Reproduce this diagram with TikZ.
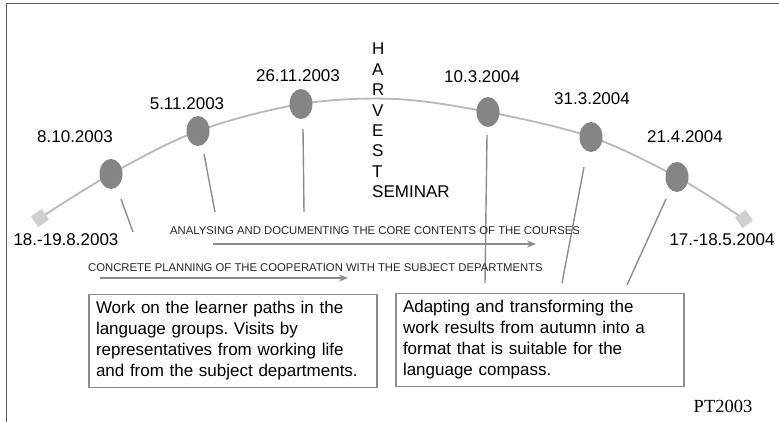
\documentclass[tikz,border=0pt]{standalone}
\usepackage{fontspec}
\setmainfont{Liberation Sans}
\newfontfamily\serifpt{Liberation Serif}
\usetikzlibrary{shapes.geometric,arrows.meta,backgrounds}
\definecolor{evfill}{HTML}{858585}
\definecolor{curvec}{HTML}{B8B8B8}
\definecolor{linkc}{HTML}{8C8C8C}
\definecolor{sqfill}{HTML}{CFCFCF}
\definecolor{framec}{HTML}{5A5A5A}
\tikzset{
  ev/.style={ellipse, fill=evfill, minimum width=23pt, minimum height=30pt, inner sep=0pt},
  endsq/.style={rectangle, fill=sqfill, minimum size=13pt, inner sep=0pt, rotate=35},
  datelbl/.style={font=\fontsize{17}{19}\selectfont, inner sep=0pt},
  linkline/.style={draw=linkc, line width=1.4pt},
  curveline/.style={draw=curvec, line width=1.8pt},
  arr/.style={draw=linkc, line width=1.4pt, -{Stealth[length=9pt,width=7pt]}},
  caps/.style={font=\fontsize{11.3}{13}\selectfont, inner sep=0pt, text=black!85},
  textbox/.style={draw=linkc, line width=1.2pt, minimum width=288pt, minimum height=88pt, text width=274pt, align=left, inner sep=7pt, font=\fontsize{17}{21}\selectfont}
}
\begin{document}
\frenchspacing
\begin{tikzpicture}[x=1pt,y=-1pt]
\useasboundingbox (0,0) rectangle (779,422);
% frame
\coordinate (fa) at (6,422);
\coordinate (fb) at (6,4);
\coordinate (fc) at (779,4);
\draw[framec, line width=1pt] (fa) -- (fb) -- (fc);

% events
\node[endsq] (s0) at (40,218) {};
\node[ev] (e1) at (111,174) {};
\node[ev] (e2) at (198,131) {};
\node[ev] (e3) at (301,104) {};
\node[ev] (e4) at (488,112) {};
\node[ev] (e5) at (591,137) {};
\node[ev] (e6) at (677,177) {};
\node[endsq] (s7) at (744,219) {};
\coordinate (top) at (395,99);

\begin{pgfonlayer}{background}
\draw[curveline] plot[smooth, tension=0.55] coordinates {(s0) (e1) (e2) (e3) (top) (e4) (e5) (e6) (s7)};
\end{pgfonlayer}

% date labels
\node[datelbl] (d0) at (66,240) {18.-19.8.2003};
\node[datelbl] (d1) at (75,137) {8.10.2003};
\node[datelbl] (d2) at (187,104) {5.11.2003};
\node[datelbl] (d3) at (298,76) {26.11.2003};
\node[datelbl] (d4) at (482,77) {10.3.2004};
\node[datelbl] (d5) at (592,99) {31.3.2004};
\node[datelbl] (d6) at (685,137) {21.4.2004};
\node[datelbl] (d7) at (722,240) {17.-18.5.2004};

% harvest seminar
\node[font=\fontsize{17}{20.4}\selectfont, align=left, anchor=north west, inner sep=0pt] (hs) at (372,43) {H\\A\\R\\V\\E\\S\\T\\SEMINAR};

% pointer lines
\coordinate (l1a) at (121,199); \coordinate (l1b) at (133,232);
\coordinate (l2a) at (204,154); \coordinate (l2b) at (215,212);
\coordinate (l3a) at (303,129); \coordinate (l3b) at (304,212);
\coordinate (l4a) at (487,135); \coordinate (l4b) at (485,283);
\coordinate (l5a) at (584,167); \coordinate (l5b) at (562,283);
\coordinate (l6a) at (666,199); \coordinate (l6b) at (627,285);
\draw[linkline] (l1a) -- (l1b);
\draw[linkline] (l2a) -- (l2b);
\draw[linkline] (l3a) -- (l3b);
\draw[linkline] (l4a) -- (l4b);
\draw[linkline] (l5a) -- (l5b);
\draw[linkline] (l6a) -- (l6b);

% arrows and captions
\node[caps] (c1) at (375,231) {ANALYSING AND DOCUMENTING THE CORE CONTENTS OF THE COURSES};
\coordinate (a1s) at (213,244); \coordinate (a1e) at (536,244);
\draw[arr] (a1s) -- (a1e);
\node[caps] (c2) at (315.5,268) {CONCRETE PLANNING OF THE COOPERATION WITH THE SUBJECT DEPARTMENTS};
\coordinate (a2s) at (100,278); \coordinate (a2e) at (348,278);
\draw[arr] (a2s) -- (a2e);

% boxes
\node[textbox] (b1) at (233,341) {Work on the learner paths in the\\language groups. Visits by\\representatives from working life\\and from the subject departments.};
\node[textbox] (b2) at (540,340) {Adapting and transforming the\\work results from autumn into a\\format that is suitable for the\\language compass.};

\node[font=\serifpt\fontsize{18.5}{20}\selectfont, inner sep=0pt] (pt) at (723,406) {PT2003};
\end{tikzpicture}
\end{document}
